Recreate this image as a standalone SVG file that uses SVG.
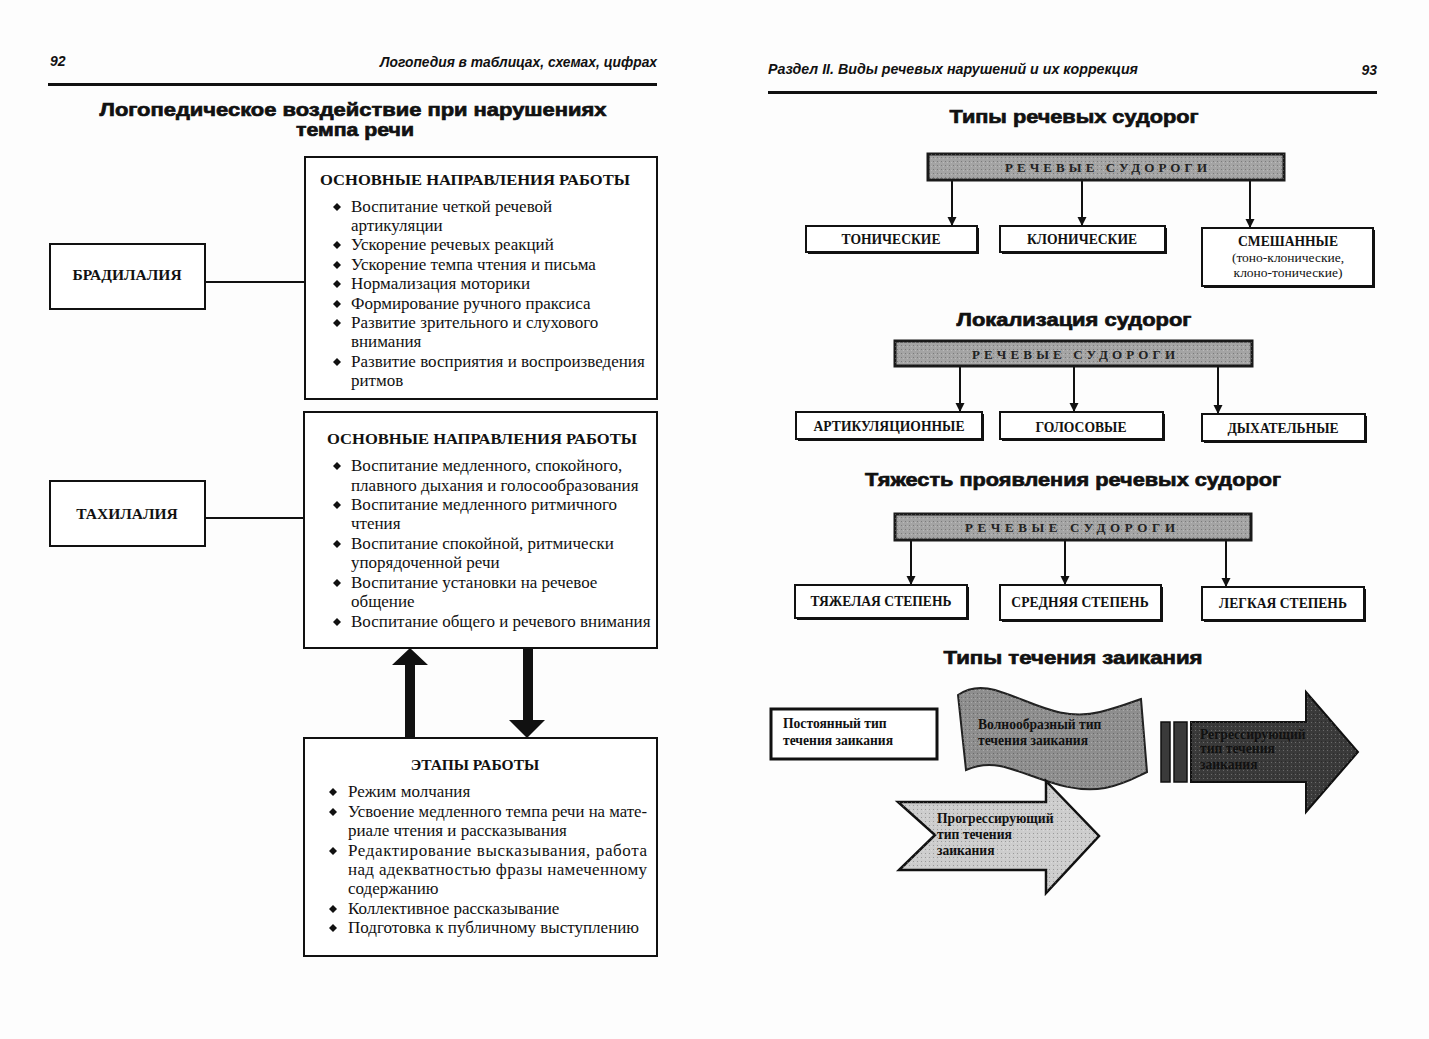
<svg xmlns="http://www.w3.org/2000/svg" width="1429" height="1039" viewBox="0 0 1429 1039">
<style>
.pg{fill:#fdfdfd}
.hdr{font-family:"Liberation Sans",Arial,sans-serif;font-weight:bold;font-style:italic;font-size:14px;fill:#111}
.ttl{font-family:"Liberation Sans",Arial,sans-serif;font-weight:bold;font-size:19px;fill:#111;stroke:#111;stroke-width:0.7}
.bx{fill:#fff;stroke:#111;stroke-width:2}
.sh{fill:#111}
.bt{font-family:"Liberation Serif","Times New Roman",serif;font-weight:bold;font-size:15.5px;fill:#111}
.tx{font-family:"Liberation Serif","Times New Roman",serif;font-size:17px;fill:#111}
.sm{font-family:"Liberation Serif","Times New Roman",serif;font-weight:bold;font-size:13.6px;fill:#111;text-anchor:middle}
.sr{font-family:"Liberation Serif","Times New Roman",serif;font-size:13.5px;fill:#111;text-anchor:middle}
.gr{fill:#a4a4a4;stroke:#1a1a1a;stroke-width:3}
.gt{font-family:"Liberation Serif","Times New Roman",serif;font-weight:bold;font-size:13px;fill:#222}
.ln{stroke:#111;stroke-width:2;fill:none}
.ar{stroke:#111;stroke-width:2;fill:none;marker-end:url(#ah)}
.ft{font-family:"Liberation Serif","Times New Roman",serif;font-weight:bold;font-size:13.6px;fill:#111}
</style>
<defs>
<marker id="ah" viewBox="0 0 10 10" refX="10" refY="5" markerWidth="9" markerHeight="11" markerUnits="userSpaceOnUse" orient="auto">
<path d="M0,0 L10,5 L0,10 z" fill="#111"/>
</marker>
<polygon id="dm" points="0,-4 4,0 0,4 -4,0" fill="#111"/>
<pattern id="noise" width="4" height="4" patternUnits="userSpaceOnUse">
<rect width="4" height="4" fill="#000" opacity="0"/>
<rect x="1" y="1" width="1" height="1" fill="#000" opacity="0.25"/>
<rect x="3" y="2" width="1" height="1" fill="#fff" opacity="0.25"/>
</pattern>
</defs>
<rect class="pg" x="0" y="0" width="1429" height="1039"/>

<!-- Left page header -->
<g id="left-header">
<text class="hdr" x="50" y="66">92</text>
<text class="hdr" x="380" y="67" textLength="277" lengthAdjust="spacingAndGlyphs">Логопедия в таблицах, схемах, цифрах</text>
<rect x="48" y="83" width="609" height="3" fill="#111"/>
<text class="ttl" x="353" y="116" text-anchor="middle" textLength="507" lengthAdjust="spacingAndGlyphs">Логопедическое воздействие при нарушениях</text>
<text class="ttl" x="355" y="136" text-anchor="middle" textLength="118" lengthAdjust="spacingAndGlyphs">темпа речи</text>
</g>

<!-- Connectors left -->
<g id="connectors-left">
<line class="ln" x1="205" y1="282" x2="305" y2="282"/>
<line class="ln" x1="205" y1="518" x2="304" y2="518"/>
<polygon points="405,737 415,737 415,665 428,665 410,648 392,665 405,665" fill="#111"/>
<polygon points="523,648 533,648 533,720 545,720 527,738 509,720 523,720" fill="#111"/>
</g>

<g id="bradilalia">
<rect class="bx" x="50" y="244" width="155" height="65"/>
<text class="bt" x="127" y="280" text-anchor="middle">БРАДИЛАЛИЯ</text>
</g>

<g id="tahilalia">
<rect class="bx" x="50" y="481" width="155" height="65"/>
<text class="bt" x="127" y="519" text-anchor="middle">ТАХИЛАЛИЯ</text>
</g>

<g id="box-brad">
<rect class="bx" x="305" y="157" width="352" height="242"/>
<text class="bt" x="320" y="185" textLength="310" lengthAdjust="spacingAndGlyphs">ОСНОВНЫЕ НАПРАВЛЕНИЯ РАБОТЫ</text>
<use href="#dm" x="337" y="207"/>
<use href="#dm" x="337" y="245"/>
<use href="#dm" x="337" y="265"/>
<use href="#dm" x="337" y="284"/>
<use href="#dm" x="337" y="304"/>
<use href="#dm" x="337" y="323"/>
<use href="#dm" x="337" y="362"/>
<text class="tx" x="351" y="212">Воспитание четкой речевой</text>
<text class="tx" x="351" y="231">артикуляции</text>
<text class="tx" x="351" y="250">Ускорение речевых реакций</text>
<text class="tx" x="351" y="270">Ускорение темпа чтения и письма</text>
<text class="tx" x="351" y="289">Нормализация моторики</text>
<text class="tx" x="351" y="309">Формирование ручного праксиса</text>
<text class="tx" x="351" y="328">Развитие зрительного и слухового</text>
<text class="tx" x="351" y="347">внимания</text>
<text class="tx" x="351" y="367">Развитие восприятия и воспроизведения</text>
<text class="tx" x="351" y="386">ритмов</text>
</g>

<g id="box-tah">
<rect class="bx" x="304" y="412" width="353" height="236"/>
<text class="bt" x="327" y="444" textLength="310" lengthAdjust="spacingAndGlyphs">ОСНОВНЫЕ НАПРАВЛЕНИЯ РАБОТЫ</text>
<use href="#dm" x="337" y="466"/>
<use href="#dm" x="337" y="505"/>
<use href="#dm" x="337" y="544"/>
<use href="#dm" x="337" y="583"/>
<use href="#dm" x="337" y="622"/>
<text class="tx" x="351" y="471">Воспитание медленного, спокойного,</text>
<text class="tx" x="351" y="491">плавного дыхания и голосообразования</text>
<text class="tx" x="351" y="510">Воспитание медленного ритмичного</text>
<text class="tx" x="351" y="529">чтения</text>
<text class="tx" x="351" y="549">Воспитание спокойной, ритмически</text>
<text class="tx" x="351" y="568">упорядоченной речи</text>
<text class="tx" x="351" y="588">Воспитание установки на речевое</text>
<text class="tx" x="351" y="607">общение</text>
<text class="tx" x="351" y="627">Воспитание общего и речевого внимания</text>
</g>

<g id="box-stages">
<rect class="bx" x="304" y="738" width="353" height="218"/>
<text class="bt" x="475" y="770" text-anchor="middle">ЭТАПЫ РАБОТЫ</text>
<use href="#dm" x="333" y="792"/>
<use href="#dm" x="333" y="812"/>
<use href="#dm" x="333" y="851"/>
<use href="#dm" x="333" y="909"/>
<use href="#dm" x="333" y="928"/>
<text class="tx" x="348" y="797">Режим молчания</text>
<text class="tx" x="348" y="817" textLength="299" lengthAdjust="spacingAndGlyphs">Усвоение медленного темпа речи на мате-</text>
<text class="tx" x="348" y="836">риале чтения и рассказывания</text>
<text class="tx" x="348" y="856" textLength="299" lengthAdjust="spacing">Редактирование высказывания, работа</text>
<text class="tx" x="348" y="875" textLength="299" lengthAdjust="spacing">над адекватностью фразы намеченному</text>
<text class="tx" x="348" y="894">содержанию</text>
<text class="tx" x="348" y="914">Коллективное рассказывание</text>
<text class="tx" x="348" y="933">Подготовка к публичному выступлению</text>
</g>

<!-- Right page header -->
<g id="right-header">
<text class="hdr" x="768" y="74" textLength="370" lengthAdjust="spacingAndGlyphs">Раздел II. Виды речевых нарушений и их коррекция</text>
<text class="hdr" x="1377" y="75" text-anchor="end">93</text>
<rect x="768" y="91" width="609" height="3" fill="#111"/>
<text class="ttl" x="1074" y="123" text-anchor="middle" textLength="249" lengthAdjust="spacingAndGlyphs">Типы речевых судорог</text>
<text class="ttl" x="1074" y="326" text-anchor="middle" textLength="235" lengthAdjust="spacingAndGlyphs">Локализация судорог</text>
<text class="ttl" x="1073" y="486" text-anchor="middle" textLength="416" lengthAdjust="spacingAndGlyphs">Тяжесть проявления речевых судорог</text>
<text class="ttl" x="1073" y="664" text-anchor="middle" textLength="259" lengthAdjust="spacingAndGlyphs">Типы течения заикания</text>
</g>

<!-- Connectors right -->
<g id="connectors-right">
<line class="ar" x1="952" y1="181" x2="952" y2="226"/>
<line class="ar" x1="1082" y1="181" x2="1082" y2="226"/>
<line class="ar" x1="1250" y1="181" x2="1250" y2="228"/>
<line class="ar" x1="960" y1="367" x2="960" y2="412"/>
<line class="ar" x1="1074" y1="367" x2="1074" y2="412"/>
<line class="ar" x1="1218" y1="367" x2="1218" y2="414"/>
<line class="ar" x1="911" y1="541" x2="911" y2="585"/>
<line class="ar" x1="1065" y1="541" x2="1065" y2="585"/>
<line class="ar" x1="1226" y1="541" x2="1226" y2="587"/>
</g>

<!-- Section 1 -->
<g id="rs1">
<rect class="gr" x="928" y="154" width="356" height="26"/>
<rect x="928" y="154" width="356" height="26" fill="url(#noise)"/>
<text class="gt" x="1005" y="172" textLength="202" lengthAdjust="spacing">РЕЧЕВЫЕ  СУДОРОГИ</text>
</g>
<g id="tonic">
<rect class="sh" x="808" y="228" width="171" height="26"/>
<rect class="bx" x="806" y="226" width="171" height="26"/>
<text class="sm" x="891" y="244">ТОНИЧЕСКИЕ</text>
</g>
<g id="clonic">
<rect class="sh" x="1002" y="228" width="165" height="26"/>
<rect class="bx" x="1000" y="226" width="165" height="26"/>
<text class="sm" x="1082" y="244">КЛОНИЧЕСКИЕ</text>
</g>
<g id="mixed">
<rect class="sh" x="1204" y="230" width="171" height="58"/>
<rect class="bx" x="1202" y="228" width="171" height="58"/>
<text class="sm" x="1288" y="246">СМЕШАННЫЕ</text>
<text class="sr" x="1288" y="262">(тоно-клонические,</text>
<text class="sr" x="1288" y="277">клоно-тонические)</text>
</g>

<!-- Section 2 -->
<g id="rs2">
<rect class="gr" x="895" y="341" width="357" height="25"/>
<rect x="895" y="341" width="357" height="25" fill="url(#noise)"/>
<text class="gt" x="972" y="359" textLength="203" lengthAdjust="spacing">РЕЧЕВЫЕ  СУДОРОГИ</text>
</g>
<g id="artic">
<rect class="sh" x="798" y="414" width="186" height="27"/>
<rect class="bx" x="796" y="412" width="186" height="27"/>
<text class="sm" x="889" y="431">АРТИКУЛЯЦИОННЫЕ</text>
</g>
<g id="voice">
<rect class="sh" x="1002" y="414" width="163" height="27"/>
<rect class="bx" x="1000" y="412" width="163" height="27"/>
<text class="sm" x="1081" y="432">ГОЛОСОВЫЕ</text>
</g>
<g id="breath">
<rect class="sh" x="1204" y="416" width="163" height="27"/>
<rect class="bx" x="1202" y="414" width="163" height="27"/>
<text class="sm" x="1283" y="433">ДЫХАТЕЛЬНЫЕ</text>
</g>

<!-- Section 3 -->
<g id="rs3">
<rect class="gr" x="895" y="514" width="356" height="26"/>
<rect x="895" y="514" width="356" height="26" fill="url(#noise)"/>
<text class="gt" x="965" y="532" textLength="210" lengthAdjust="spacing">РЕЧЕВЫЕ  СУДОРОГИ</text>
</g>
<g id="heavy">
<rect class="sh" x="797" y="587" width="172" height="33"/>
<rect class="bx" x="795" y="585" width="172" height="33"/>
<text class="sm" x="881" y="606">ТЯЖЕЛАЯ  СТЕПЕНЬ</text>
</g>
<g id="medium">
<rect class="sh" x="1002" y="587" width="161" height="35"/>
<rect class="bx" x="1000" y="585" width="161" height="35"/>
<text class="sm" x="1080" y="607">СРЕДНЯЯ СТЕПЕНЬ</text>
</g>
<g id="light">
<rect class="sh" x="1204" y="589" width="162" height="33"/>
<rect class="bx" x="1202" y="587" width="162" height="33"/>
<text class="sm" x="1283" y="608">ЛЕГКАЯ  СТЕПЕНЬ</text>
</g>

<!-- Stuttering course types -->
<g id="constant">
<rect x="771" y="709" width="166" height="50" fill="#fff" stroke="#111" stroke-width="3"/>
<text class="ft" x="783" y="728">Постоянный тип</text>
<text class="ft" x="783" y="745">течения заикания</text>
</g>

<g id="wave">
<path d="M958,695 C968,688 980,686 995,690 C1030,700 1060,722 1100,712 C1120,707 1132,702 1141,699 L1147,772 C1138,776 1125,784 1105,788 C1065,795 1030,772 1000,766 C985,763 975,766 966,770 Z" fill="#8e8e8e" stroke="#222" stroke-width="2"/>
<path d="M958,695 C968,688 980,686 995,690 C1030,700 1060,722 1100,712 C1120,707 1132,702 1141,699 L1147,772 C1138,776 1125,784 1105,788 C1065,795 1030,772 1000,766 C985,763 975,766 966,770 Z" fill="url(#noise)"/>
<text class="ft" x="978" y="729" fill="#333">Волнообразный тип</text>
<text class="ft" x="978" y="745" fill="#333">течения заикания</text>
</g>

<g id="regress">
<rect x="1161" y="722" width="9" height="60" fill="#3a3a3a" stroke="#111" stroke-width="1.5"/>
<rect x="1174" y="722" width="13" height="60" fill="#3a3a3a" stroke="#111" stroke-width="1.5"/>
<polygon points="1191,722 1306,722 1306,692 1358,752 1306,812 1306,782 1191,782" fill="#3a3a3a" stroke="#111" stroke-width="2"/>
<polygon points="1191,722 1306,722 1306,692 1358,752 1306,812 1306,782 1191,782" fill="url(#noise)"/>
<text class="ft" x="1200" y="739" fill="#5e5e5e">Регрессирующий</text>
<text class="ft" x="1200" y="753" fill="#5e5e5e">тип течения</text>
<text class="ft" x="1200" y="769" fill="#5e5e5e">заикания</text>
</g>

<g id="progress">
<polygon points="898,802 1046,802 1046,781 1099,836 1046,893 1046,870 899,870 935,835" fill="#cdcdcd" stroke="#111" stroke-width="2.5"/>
<polygon points="898,802 1046,802 1046,781 1099,836 1046,893 1046,870 899,870 935,835" fill="url(#noise)"/>
<text class="ft" x="937" y="823">Прогрессирующий</text>
<text class="ft" x="937" y="839">тип течения</text>
<text class="ft" x="937" y="855">заикания</text>
</g>
</svg>
